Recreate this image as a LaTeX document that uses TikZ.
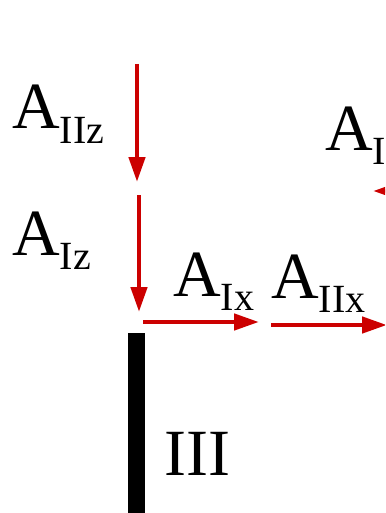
\documentclass[tikz,border=0pt]{standalone}
\usepackage{fontspec}
\setmainfont{Liberation Serif}
\usetikzlibrary{arrows.meta}
\definecolor{vred}{RGB}{204,0,0}
\newcommand{\lbl}[1]{A\raisebox{-14pt}{\fontsize{40}{40}\selectfont #1}}
\begin{document}
\begin{tikzpicture}[x=1pt,y=-1pt,
  force/.style={draw=vred,line width=4.5pt,-{Triangle[length=25pt,width=16pt]}},
  big/.style={inner sep=0pt,anchor=base west,font=\fontsize{66}{66}\selectfont}]
\useasboundingbox (0,0) rectangle (385,513);
\clip (0,0) rectangle (385,513);
% labels
\node[big] (tIIz) at (12,129) {\lbl{IIz}};
\node[big] (tIz) at (12,255) {\lbl{Iz}};
\node[big] (tIx) at (173,296) {\lbl{Ix}};
\node[big] (tIIx) at (271,298) {\lbl{IIx}};
\node[big] (tI) at (325,150) {\lbl{I}};
\node[big] (tIII) at (164,475) {III};
% member
\fill[black] (128,333) rectangle (145,513);
% arrow ends
\coordinate (a1s) at (137,64);  \coordinate (a1e) at (137,182);
\coordinate (a2s) at (139,195); \coordinate (a2e) at (139,312);
\coordinate (a3s) at (143,322); \coordinate (a3e) at (259,322);
\coordinate (a4s) at (271,325); \coordinate (a4e) at (387,325);
\coordinate (a5s) at (430,191); \coordinate (a5e) at (373,191);
\draw[force] (a1s) -- (a1e);
\draw[force] (a2s) -- (a2e);
\draw[force] (a3s) -- (a3e);
\draw[force] (a4s) -- (a4e);
\draw[force] (a5s) -- (a5e);
\end{tikzpicture}
\end{document}
